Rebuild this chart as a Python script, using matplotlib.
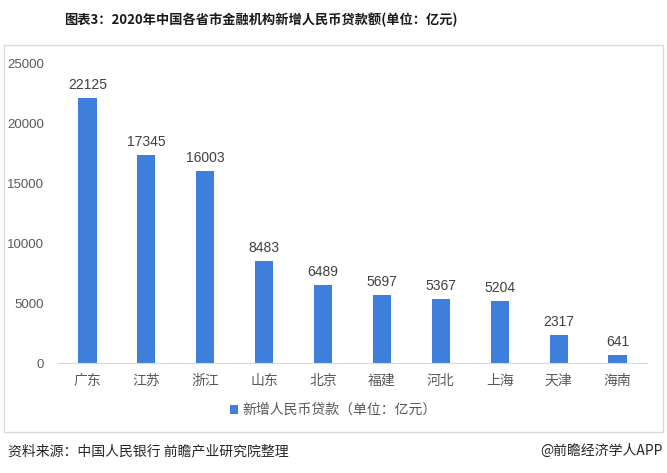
import matplotlib.pyplot as plt
from matplotlib.patches import Rectangle

plt.rcParams['font.family'] = ['Noto Sans CJK SC', 'DejaVu Sans']

provinces = ["广东", "江苏", "浙江", "山东", "北京", "福建", "河北", "上海", "天津", "海南"]
loans = [22125, 17345, 16003, 8483, 6489, 5697, 5367, 5204, 2317, 641]
yticks = [0, 5000, 10000, 15000, 20000, 25000]

title = "图表3：2020年中国各省市金融机构新增人民币贷款额(单位：亿元)"
legend_label = "新增人民币贷款（单位：亿元）"
source = "资料来源：中国人民银行 前瞻产业研究院整理"
credit = "@前瞻经济学人APP"

bar_color = "#3f7fdc"
grey = "#595959"
num_font = ['Liberation Sans', 'Noto Sans CJK SC']

W, H = 667, 473
fig = plt.figure(figsize=(W / 100, H / 100), dpi=100)

# outer frame around the chart
fig.patches.append(Rectangle((4 / W, 1 - 432 / H), 659 / W, 387 / H, transform=fig.transFigure,
                             fill=False, edgecolor="#d9d9d9", lw=1))

ax = fig.add_axes([58 / W, 1 - 363 / H, 589 / W, 300 / H])
x = range(len(provinces))
bars = ax.bar(x, loans, width=0.31, color=bar_color, label=legend_label)
for xi, v in zip(x, loans):
    ax.text(xi, v + 500, str(v), ha="center", va="bottom", fontsize=10, color="#404040",
            family=num_font)

ax.set_xlim(-0.5, len(provinces) - 0.5)
ax.set_ylim(0, 25000)
ax.set_yticks(yticks)
ax.set_yticklabels([str(t) for t in yticks], family=num_font)
ax.set_xticks(list(x))
ax.set_xticklabels(provinces)
ax.tick_params(axis="y", length=0, pad=10, labelsize=9.5, labelcolor=grey)
ax.tick_params(axis="x", length=0, pad=8, labelsize=10, labelcolor=grey)
for s in ["top", "right", "left"]:
    ax.spines[s].set_visible(False)
ax.spines["bottom"].set_color("#d9d9d9")

fig.legend(handles=[bars], labels=[legend_label], loc="center", bbox_to_anchor=(333 / W, 1 - 410 / H),
           frameon=False, fontsize=10, handlelength=0.6, handleheight=0.6, handletextpad=0.3,
           labelcolor=grey)

fig.text(261 / W, 1 - 20 / H, title, ha="center", va="center", fontsize=9.5, fontweight="bold",
         color="#1a1a1a")
fig.text(8 / W, 1 - 451 / H, source, ha="left", va="center", fontsize=10, color="#262626")
fig.text(663 / W, 1 - 451 / H, credit, ha="right", va="center", fontsize=10, color="#262626")

fig.savefig("out.png", dpi=100)
